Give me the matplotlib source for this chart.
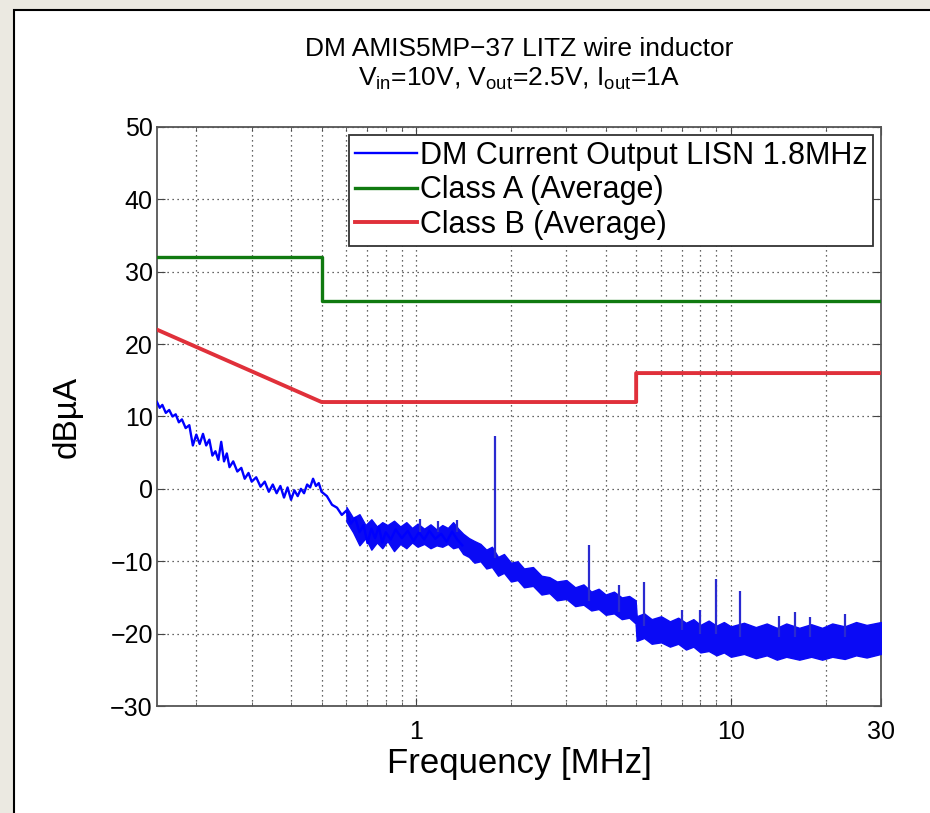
import matplotlib
matplotlib.use('Agg')
import matplotlib.pyplot as plt
from matplotlib.patches import Rectangle
from matplotlib.ticker import FixedLocator, NullFormatter

# --- data ---
# wiggly low-frequency part of the measured trace (MHz, dBuA)
trace_f = [0.150, 0.153, 0.156, 0.160, 0.164, 0.168, 0.172, 0.176, 0.180, 0.185,
           0.190, 0.195, 0.200, 0.205, 0.210, 0.215, 0.220, 0.225, 0.230, 0.235,
           0.240, 0.245, 0.250, 0.255, 0.262, 0.270, 0.278, 0.285, 0.293, 0.300,
           0.310, 0.320, 0.330, 0.340, 0.350, 0.360, 0.370, 0.380, 0.390, 0.400,
           0.410, 0.420, 0.430, 0.440, 0.450, 0.460, 0.470, 0.480, 0.490, 0.500,
           0.520, 0.540, 0.560, 0.580, 0.600, 0.620, 0.640, 0.660, 0.680, 0.700,
           0.720, 0.740, 0.760, 0.780, 0.800, 0.830, 0.860, 0.900, 0.940, 0.980,
           1.02, 1.06, 1.10, 1.15, 1.20, 1.25, 1.30, 1.35, 1.40]
trace_db = [12.0, 11.2, 11.6, 10.5, 10.9, 10.0, 10.3, 9.2, 9.6, 8.4,
            8.8, 6.0, 7.5, 6.2, 7.6, 6.0, 6.8, 4.6, 5.2, 4.0,
            6.5, 3.8, 4.9, 3.0, 3.8, 2.4, 2.9, 1.4, 2.2, 1.0,
            1.6, 0.3, 1.0, -0.4, 0.6, -0.6, 0.4, -1.2, 0.2, -1.5,
            -0.2, -1.0, 0.0, -0.6, 0.6, 0.2, 1.4, 0.4, 0.8, -0.4,
            -1.0, -2.2, -2.6, -3.6, -3.0, -4.8, -4.0, -6.0, -5.0, -7.5,
            -5.5, -6.8, -5.2, -7.4, -6.0, -7.0, -5.6, -6.8, -5.8, -7.2,
            -6.0, -7.0, -5.8, -6.9, -6.2, -7.3, -5.9, -7.0, -7.8]

# dense noisy part drawn as a band (MHz, lower / upper dBuA)
band_f = [0.60, 0.63, 0.66, 0.69, 0.72, 0.75, 0.78, 0.81, 0.85, 0.89,
          0.93, 0.97, 1.01, 1.06, 1.11, 1.16, 1.21, 1.26, 1.31, 1.36,
          1.41, 1.47, 1.53, 1.60, 1.67, 1.74, 1.82, 1.90, 2.0, 2.1,
          2.2, 2.35, 2.5, 2.65, 2.8, 3.0, 3.2, 3.4, 3.6, 3.8,
          4.0, 4.25, 4.5, 4.75, 4.98, 5.02, 5.3, 5.6, 6.0, 6.4,
          6.8, 7.2, 7.6, 8.0, 8.5, 9.0, 9.5, 10, 11, 12,
          13, 14, 15, 16.5, 18, 19.5, 21, 23, 25, 27, 30]
band_hi = [-2.5, -4.0, -3.5, -5.0, -4.2, -5.2, -4.6, -5.0, -4.4, -5.2,
           -4.6, -5.4, -4.8, -5.5, -4.9, -5.6, -5.0, -5.4, -4.6, -5.5,
           -6.2, -6.8, -7.2, -7.6, -8.4, -8.0, -9.4, -9.0, -10.2, -10.0,
           -11.0, -10.8, -12.0, -12.2, -12.8, -12.6, -13.6, -13.2, -14.2, -13.8,
           -14.6, -14.2, -15.0, -14.8, -15.4, -17.6, -17.2, -18.0, -17.6, -18.3,
           -17.8, -18.5, -18.0, -18.8, -18.2, -18.9, -18.4, -19.0, -18.5, -19.1,
           -18.6, -19.2, -18.6, -19.2, -18.7, -19.2, -18.6, -19.0, -18.4, -18.8, -18.4]
band_lo = [-4.5, -6.0, -7.8, -6.8, -8.4, -7.4, -8.2, -7.2, -8.6, -7.6,
           -8.2, -7.4, -8.0, -7.6, -8.2, -7.8, -8.0, -7.6, -8.2, -8.0,
           -9.0, -9.4, -10.2, -10.0, -11.0, -10.8, -12.0, -11.6, -12.8, -12.6,
           -13.6, -13.4, -14.6, -14.4, -15.4, -15.2, -16.2, -16.0, -16.8, -16.6,
           -17.4, -17.2, -18.0, -17.8, -18.6, -21.0, -20.6, -21.4, -21.2, -21.8,
           -21.4, -22.2, -21.8, -22.6, -22.4, -23.0, -22.6, -23.2, -22.8, -23.4,
           -23.0, -23.6, -23.2, -23.6, -23.2, -23.6, -23.2, -23.5, -23.0, -23.3, -22.8]

# narrow spikes (MHz, base dBuA, peak dBuA)
spike_f = [1.03, 1.17, 1.35, 1.78, 3.55, 4.4, 5.3, 7.0, 8.0, 9.0, 10.7, 14.2, 16.0, 17.8, 23.0]
spike_base = [-6.0, -6.0, -6.0, -9.5, -15.5, -17.0, -19.0, -19.5, -20.0, -20.0, -20.5, -20.5, -20.5, -20.5, -20.5]
spike_top = [-4.2, -4.4, -4.3, 7.3, -7.8, -13.3, -12.9, -16.8, -16.8, -12.5, -14.1, -17.5, -17.0, -17.7, -17.3]

# EN55022 average limits converted to dBuA
classA_f = [0.15, 0.5, 0.5, 30]
classA_db = [32, 32, 26, 26]
classB_f = [0.15, 0.5, 5, 5, 30]
classB_db = [22, 12, 12, 16, 16]

x_major = [1, 10, 30]
x_minor = [0.2, 0.3, 0.4, 0.5, 0.6, 0.7, 0.8, 0.9, 2, 3, 4, 5, 6, 7, 8, 9, 20]
y_ticks = [-30, -20, -10, 0, 10, 20, 30, 40, 50]

plt.rcParams['font.family'] = ['Liberation Sans', 'DejaVu Sans']
plt.rcParams['mathtext.fontset'] = 'custom'
plt.rcParams['mathtext.rm'] = 'Liberation Sans'

fig = plt.figure(figsize=(9.3, 8.13), dpi=100, facecolor='#ebe9e1')
card = Rectangle((14 / 930, -0.05), 1.2, 1 - 10 / 813 + 0.05, transform=fig.transFigure,
                 facecolor='white', edgecolor='black', linewidth=1.5, zorder=-10)
fig.patches.append(card)

ax = fig.add_axes([157 / 930, 107 / 813, 724 / 930, 579 / 813])
ax.set_zorder(5)
ax.set_xscale('log')

ax.fill_between(band_f, band_lo, band_hi, color='#0a0af5', linewidth=1.0, zorder=3)
ax.plot(trace_f, trace_db, color='#0000ff', linewidth=1.7, zorder=3,
        label='DM Current Output LISN 1.8MHz')
ax.vlines(spike_f, spike_base, spike_top, color='#2a2ad0', linewidth=1.6, zorder=3)
ax.plot(classA_f, classA_db, color='#107a10', linewidth=2.4, zorder=4, label='Class A (Average)')
ax.plot(classB_f, classB_db, color='#e0303a', linewidth=2.8, zorder=4, label='Class B (Average)')

ax.set_xlim(0.15, 30)
ax.set_ylim(-30, 50)
ax.xaxis.set_major_locator(FixedLocator(x_major))
ax.xaxis.set_minor_locator(FixedLocator(x_minor))
ax.xaxis.set_minor_formatter(NullFormatter())
ax.set_xticklabels([str(v) for v in x_major], fontsize=18)
ax.set_yticks(y_ticks)
ax.set_yticklabels(['\u2212' + str(-v) if v < 0 else str(v) for v in y_ticks], fontsize=18)
ax.tick_params(which='both', direction='in', top=True, right=True, color='#444444')
ax.tick_params(which='major', length=6)
ax.tick_params(axis='x', which='major', pad=10)
ax.tick_params(axis='y', which='major', pad=3)
ax.tick_params(which='minor', length=3)
ax.grid(True, which='both', linestyle=(0, (1, 3)), color='black', linewidth=0.9, alpha=0.8)
for s in ax.spines.values():
    s.set_color('#555555')
    s.set_linewidth(1.3)

ax.set_xlabel('Frequency [MHz]', fontsize=25, labelpad=2)
ax.set_ylabel('dB\u00b5A', fontsize=24, labelpad=20)
ax.set_title('DM AMIS5MP\u221237 LITZ wire inductor\n'
             '$\\mathregular{V_{in}}$=10V, $\\mathregular{V_{out}}$=2.5V, $\\mathregular{I_{out}}$=1A',
             fontsize=19, pad=30, linespacing=1.2)

leg = ax.legend(loc='upper right', fontsize=22, frameon=True, fancybox=False,
                handlelength=2.0, handletextpad=0.1, borderaxespad=0.25,
                borderpad=0.2, labelspacing=0.15)
leg.get_frame().set_edgecolor('#333333')
leg.get_frame().set_linewidth(1.3)
leg.get_frame().set_alpha(1)

fig.savefig('out.png', dpi=100, facecolor=fig.get_facecolor())
